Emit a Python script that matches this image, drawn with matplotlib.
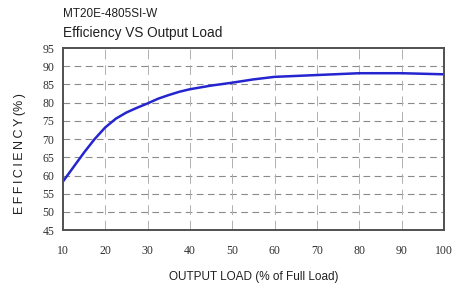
import matplotlib
matplotlib.use("Agg")
import matplotlib.pyplot as plt

# efficiency curve
load_pct = [10, 12.5, 15, 17.5, 20, 22.5, 25, 27.5, 30, 32.5, 35, 37.5, 40, 45, 50, 55, 60, 70, 80, 90, 100]
efficiency = [58.3, 62.3, 66.3, 70.0, 73.2, 75.6, 77.3, 78.6, 79.8, 81.1, 82.1, 83.0, 83.7, 84.7, 85.5,
              86.4, 87.1, 87.6, 88.1, 88.1, 87.8]

x_ticks = list(range(10, 101, 10))
y_ticks = list(range(45, 96, 5))

sans = ['Liberation Sans Narrow', 'Liberation Sans', 'DejaVu Sans']
serif = ['Liberation Serif', 'DejaVu Serif']

fig = plt.figure(figsize=(4.62, 2.88), dpi=100)
ax = fig.add_axes([0.136, 0.201, 0.825, 0.632])

ax.plot(load_pct, efficiency, color='#2525d0', linewidth=1.8)

ax.set_xlim(10, 100)
ax.set_ylim(45, 95)
ax.set_xticks(x_ticks)
ax.set_yticks(y_ticks)

# dashed grid: horizontal at interior levels, vertical at interior loads
for v in y_ticks[1:-1]:
    ax.axhline(v, color='#8a8a8a', linestyle=(0, (6, 4)), linewidth=0.8, zorder=0)
for v in x_ticks[1:-1]:
    ax.axvline(v, color='#b0b0b0', linestyle=(0, (10, 6)), linewidth=0.7, zorder=0)

ax.tick_params(axis='x', direction='in', length=0, pad=11, labelsize=8.5)
ax.tick_params(axis='y', direction='in', length=0, pad=6, labelsize=8.5)
ax.set_xticks(x_ticks[1:-1], minor=True)
ax.tick_params(axis='x', which='minor', direction='in', length=5, color='#707070', width=0.8,
               top=True, bottom=True)
for lab in ax.get_xticklabels() + ax.get_yticklabels():
    lab.set_family(serif)
    lab.set_color('#303030')

for s in ax.spines.values():
    s.set_color('#505050')
    s.set_linewidth(1.4)

ax.set_xlabel('OUTPUT LOAD (% of Full Load)', family=sans, fontsize=8.5, color='#202020', labelpad=10)
ax.set_ylabel('E\u2009F\u2009F\u2009I\u2009C\u2009I\u2009E\u2009N\u2009C\u2009Y\u2009(%\u2009)',
              family=sans, fontsize=9, color='#202020')
ax.yaxis.set_label_coords(-0.097, 0.42)

fig.text(0.136, 0.95, 'MT20E-4805SI-W', family=sans, fontsize=8.5, color='#202020', va='center')
fig.text(0.136, 0.885, 'Efficiency VS Output Load', family=sans, fontsize=9.8, color='#202020', va='center')

fig.savefig('out.png', dpi=100)
